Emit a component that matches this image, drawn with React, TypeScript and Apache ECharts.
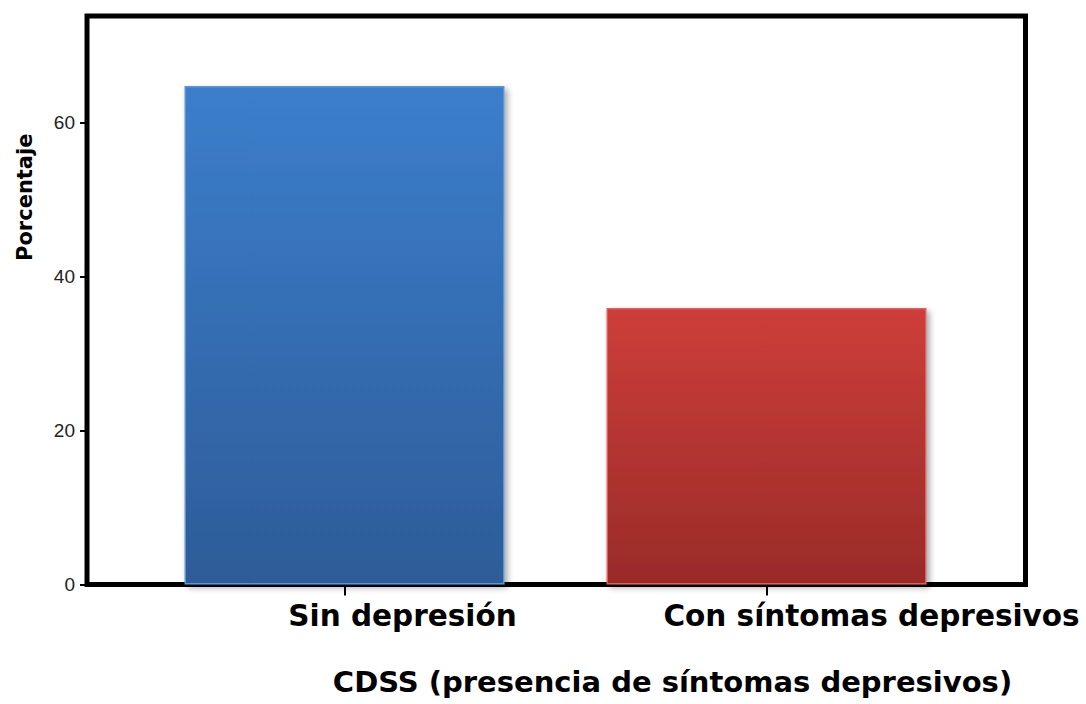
import React, { useEffect, useRef } from "react";
import * as echarts from "echarts";

const categories = ["Sin depresión", "Con síntomas depresivos"];
const values = [64.7, 35.9];
const yTicks = [0, 20, 40, 60];
const yMax = 73.8;
const xTitle = "CDSS (presencia de síntomas depresivos)";
const yTitle = "Porcentaje";

const FONT = "'Liberation Sans', Arial, sans-serif";
const BOLD_FONT = "'DejaVu Sans', 'Liberation Sans', sans-serif";

export default function App() {
  const ref = useRef<HTMLDivElement>(null);
  useEffect(() => {
    if (!ref.current) return;
    const chart = echarts.init(ref.current, undefined, { renderer: "svg" });
    const grad = (top: string, bottom: string) =>
      new echarts.graphic.LinearGradient(0, 0, 0, 1, [
        { offset: 0, color: top },
        { offset: 1, color: bottom },
      ]);
    const barColors = [
      { fill: grad("#3C7ECC", "#2D5C98"), border: "#5E93D2" },
      { fill: grad("#CD3E3A", "#9A2B28"), border: "#D8625D" },
    ];
    const labelShift = [116, 210];
    const B = 119.5;
    chart.setOption({
      animation: false,
      backgroundColor: "#ffffff",
      grid: [
        {
          left: 87,
          right: 60.5,
          top: 16,
          bottom: B,
          outerBoundsMode: "none",
          containLabel: false,
          show: true,
          borderColor: "#000",
          borderWidth: 5,
          backgroundColor: "transparent",
        },
        {
          left: 133.5,
          right: 108.5,
          top: 16,
          bottom: B,
          outerBoundsMode: "none",
          containLabel: false,
        },
      ],
      xAxis: [
        { gridIndex: 0, type: "value", show: false, min: 0, max: 1 },
        {
          gridIndex: 1,
          type: "category",
          data: categories.map((c, i) => ({
            value: c,
            textStyle: { padding: [0, 0, 0, labelShift[i]] },
          })),
          axisLine: { show: false },
          axisTick: {
            show: true,
            alignWithLabel: true,
            length: 11,
            lineStyle: { color: "#000", width: 2 },
          },
          axisLabel: {
            interval: 0,
            margin: 16,
            color: "#000",
            fontFamily: BOLD_FONT,
            fontWeight: "bold",
            fontSize: 29.5,
          },
          name: xTitle,
          nameLocation: "middle",
          nameGap: 83,
          nameTextStyle: {
            color: "#000",
            fontFamily: BOLD_FONT,
            fontWeight: "bold",
            fontSize: 29,
            padding: [0, 0, 0, 234],
          },
        },
      ],
      yAxis: [
        { gridIndex: 0, type: "value", show: false, min: 0, max: 1 },
        {
          gridIndex: 1,
          type: "value",
          min: 0,
          max: yMax,
          interval: 20,
          offset: 46.5,
          axisLine: { show: false },
          splitLine: { show: false },
          axisTick: {
            show: true,
            length: 7,
            customValues: yTicks,
            lineStyle: { color: "#000", width: 2 },
          },
          axisLabel: {
            margin: 12,
            color: "#222",
            fontFamily: FONT,
            fontSize: 19,
            customValues: yTicks,
          },
          name: yTitle,
          nameLocation: "middle",
          nameGap: 52,
          nameTextStyle: {
            color: "#000",
            fontFamily: BOLD_FONT,
            fontWeight: "bold",
            fontSize: 21,
            padding: [0, 0, 0, 206],
          },
        },
      ],
      series: [
        {
          type: "bar",
          xAxisIndex: 1,
          yAxisIndex: 1,
          barWidth: 320,
          data: values.map((v, i) => ({
            value: v,
            itemStyle: {
              color: barColors[i].fill,
              borderColor: barColors[i].border,
              borderWidth: 1.5,
              shadowBlur: 6,
              shadowColor: "rgba(0,0,0,0.35)",
              shadowOffsetX: 3,
              shadowOffsetY: 3,
            },
          })),
        },
      ],
    });
    return () => chart.dispose();
  }, []);
  return (
    <div
      ref={ref}
      style={{ position: "fixed", left: 0, top: 0, width: 1086, height: 704 }}
    />
  );
}
